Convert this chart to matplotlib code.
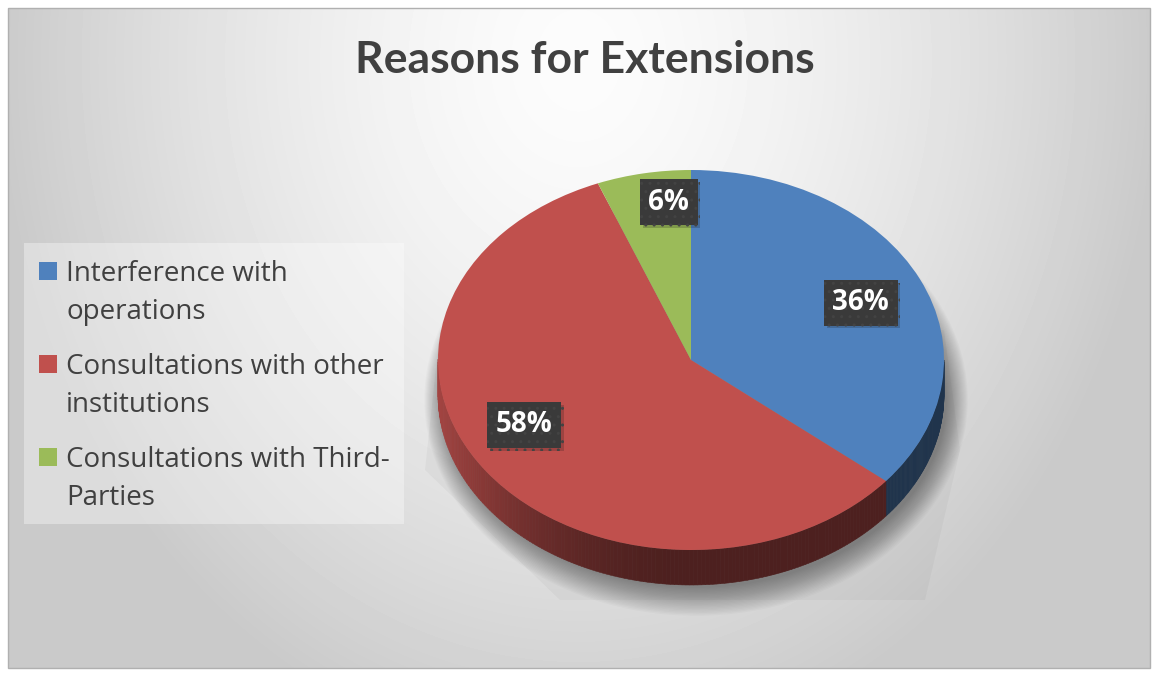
import numpy as np
import matplotlib.pyplot as plt
import matplotlib.colors as mcolors
import matplotlib.patheffects as pe
from matplotlib.patches import Rectangle, Ellipse, Polygon

# chart data
title = "Reasons for Extensions"
labels = [
    "Interference with\noperations",
    "Consultations with other\ninstitutions",
    "Consultations with Third-\nParties",
]
shares = [36, 58, 6]
colors = ["#4f81bd", "#c0504d", "#9bbb59"]

# layout (pixels)
W, H = 1156, 675
cx, cy, rx, ry = 691, 360, 253, 190
depth = 35 / ry
label_dist = [0.736, 0.743, 0.836]
label_turn = [-1.0, -8.6, -4.8]
text_col = "#404040"
font = "Open Sans"

fig = plt.figure(figsize=(W / 100, H / 100), dpi=100)
fig.patch.set_facecolor("white")

# background axes in pixel coords
bg = fig.add_axes([0, 0, 1, 1])
bg.set_xlim(0, W)
bg.set_ylim(H, 0)
bg.axis("off")

yy, xx = np.mgrid[8:668, 8:1150]
r = np.hypot((xx - 578) / 578, (yy - 60) / 700)
v = (252 - 50 * np.clip(r, 0, 1) ** 1.5) / 255
bg.imshow(v, cmap="gray", vmin=0, vmax=1, extent=(8, 1150, 668, 8),
          interpolation="bilinear", aspect="auto", zorder=0)
bg.add_patch(Rectangle((8, 8), 1142, 660, fill=False, ec="#b0b0b0", lw=1, zorder=1))

# faint perspective shadow behind the pie
bg.add_patch(Polygon([(440, 330), (944, 330), (960, 450), (925, 600), (560, 600), (425, 470)],
                     closed=True, fc="black", alpha=0.03, lw=0, zorder=1))

bg.text(585, 73, title, ha="center", va="baseline", fontsize=32, fontweight="bold",
        color=text_col, family="Lato")

# legend drawn by hand so the square sits on the first line
bg.add_patch(Rectangle((24, 243), 380, 281, fc="white", alpha=0.35, lw=0, zorder=2))
for i, (lab, c) in enumerate(zip(labels, colors)):
    base = 281 + i * 93
    bg.add_patch(Rectangle((39, base - 19), 18, 18, fc=c, lw=0, zorder=3))
    for j, line in enumerate(lab.split("\n")):
        bg.text(66, base + j * 38.3, line, ha="left", va="baseline", fontsize=20,
                color=text_col, family=font, zorder=3)

# pie axes: unit circle maps onto the ellipse
ax = fig.add_axes([0, 0, 1, 1])
ax.patch.set_alpha(0)
wedges, _ = ax.pie(shares, colors=colors, startangle=90, counterclock=False,
                   radius=1, center=(0, 0), wedgeprops=dict(linewidth=0, zorder=4))
ax.set_aspect("auto")
ax.set_xlim(-cx / rx, (W - cx) / rx)
ax.set_ylim(-(H - cy) / ry, cy / ry)
ax.axis("off")

# blurred shadow under the disc
for k in range(22):
    ax.add_patch(Ellipse((0.02, -depth - 0.025), 2 * (0.99 + 0.004 * k), 2 * (0.99 + 0.007 * k),
                         fc="black", alpha=0.02, lw=0, zorder=1))

# side walls of the 3d disc
for w, c in zip(wedges, colors):
    base = np.array(mcolors.to_rgb(c))
    t = np.linspace(w.theta1, w.theta2, 240)
    for a, b in zip(t[:-1], t[1:]):
        m = np.radians((a + b) / 2)
        if np.sin(m) >= 0:
            continue
        ang = np.degrees(m) % 360
        f = 0.4 + 0.45 * max(0.0, np.cos(np.radians(ang - 180))) ** 2
        xs = np.cos(np.radians([a, b, b, a]))
        ys = np.sin(np.radians([a, b, b, a])) - np.array([0, 0, depth, depth])
        ax.fill(xs, ys, color=base * f, lw=0.4, ec=base * f, zorder=3)

# data labels
for w, s, d, turn in zip(wedges, shares, label_dist, label_turn):
    mid = np.radians((w.theta1 + w.theta2) / 2 + turn)
    t = ax.text(d * np.cos(mid), d * np.sin(mid), f"{s}%", ha="center", va="center",
                fontsize=20, fontweight="bold", color="white", family=font, zorder=10,
                bbox=dict(boxstyle="square,pad=0.3", fc="#3a3a3a", ec="#434343", lw=0, hatch=".."))
    t.get_bbox_patch().set_path_effects([pe.SimplePatchShadow(offset=(2, -2), alpha=0.2), pe.Normal()])

fig.savefig("out.png", dpi=100)
